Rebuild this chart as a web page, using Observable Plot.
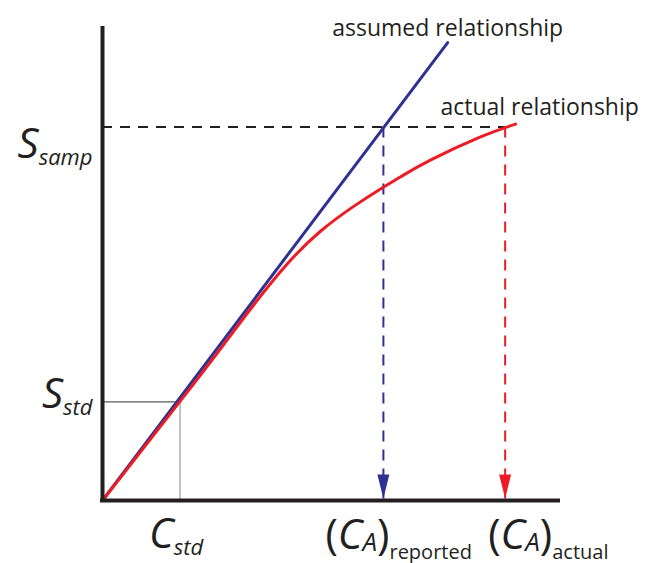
<!DOCTYPE html>
<html><head><meta charset="utf-8">
<script src="https://cdn.jsdelivr.net/npm/d3@7"></script>
<script src="https://cdn.jsdelivr.net/npm/@observablehq/plot@0.6"></script>
<style>html,body{margin:0;padding:0;background:#fff;overflow:hidden}#chart svg{display:block}</style>
</head><body><div id="chart"></div>
<script>
// ---- data (arbitrary concentration / signal units) ----
const redC = [0, 17.0, 26.5, 33.1, 40.6, 47.8, 55.0, 61.4, 65.4, 71.9, 82.9, 90.6];
const redS = [0, 20.9, 32.8, 41.2, 50.0, 56.8, 62.0, 66.0, 68.3, 71.8, 76.7, 79.4];
const blueC = [0, 75.7];
const blueS = [0, 96.6];
const Cstd = 17.0, Sstd = 20.8;
const Ssamp = 78.8;
const CAreported = 61.6, CAactual = 88.3;
const seriesNames = ["assumed relationship", "actual relationship"];
const labelSegments = {
  Ssamp: [["S", "mi"], ["samp", "si"]],
  Sstd: [["S", "mi"], ["std", "si"]],
  Cstd: [["C", "mi"], ["std", "si"]],
  CAreported: [["(", "mu"], ["C", "mi"], ["A", "ai"], [")", "mu"], ["reported", "su"]],
  CAactual: [["(", "mu"], ["C", "mi"], ["A", "ai"], [")", "mu"], ["actual", "su"]]
};

const BLUE = "#2e3192", RED = "#ed1c24", INK = "#231f20";
const FONT = "'Open Sans', sans-serif";

const red = redC.map((c, i) => ({C: c, S: redS[i]}));
const blue = blueC.map((c, i) => ({C: c, S: blueS[i]}));

const arrowHead = {
  draw(ctx) {
    ctx.moveTo(0, -2);
    ctx.lineTo(-6, -26);
    ctx.lineTo(6, -26);
    ctx.closePath();
  }
};

const svg = Plot.plot({
  width: 645,
  height: 563,
  marginLeft: 102,
  marginRight: 87,
  marginTop: 26,
  marginBottom: 63,
  x: {domain: [0, 100], axis: null},
  y: {domain: [0, 100], axis: null},
  style: {fontFamily: FONT, background: "white"},
  marks: [
    // guide lines for the standard
    Plot.ruleY([Sstd], {x1: 0, x2: Cstd, stroke: "#333", strokeWidth: 1}),
    Plot.ruleX([Cstd], {y1: 0, y2: Sstd, stroke: "#888", strokeWidth: 1}),
    // dashed construction lines
    Plot.ruleY([Ssamp], {x1: 0, x2: CAactual, stroke: INK, strokeWidth: 2, strokeDasharray: "10,8"}),
    Plot.ruleX([CAreported], {y1: Ssamp, y2: 0, stroke: BLUE, strokeWidth: 2, strokeDasharray: "11,8"}),
    Plot.ruleX([CAactual], {y1: Ssamp, y2: 0, stroke: RED, strokeWidth: 2, strokeDasharray: "11,8"}),
    // relationships
    Plot.line(blue, {x: "C", y: "S", stroke: BLUE, strokeWidth: 3}),
    Plot.line(red, {x: "C", y: "S", stroke: RED, strokeWidth: 3, curve: "natural"}),
    // arrow heads
    Plot.dot([{C: CAreported, S: 0}], {x: "C", y: "S", symbol: arrowHead, fill: BLUE, stroke: "none"}),
    Plot.dot([{C: CAactual, S: 0}], {x: "C", y: "S", symbol: arrowHead, fill: RED, stroke: "none"}),
    // axes
    Plot.ruleX([0], {y1: 0, y2: 100, stroke: INK, strokeWidth: 4}),
    Plot.ruleY([0], {x1: 0, x2: 100, stroke: INK, strokeWidth: 4, strokeLinecap: "square"}),
    // series labels
    Plot.text([{C: blueC[1], S: blueS[1], t: seriesNames[0]}], {x: "C", y: "S", text: "t", textAnchor: "middle", lineAnchor: "bottom", dy: -7, fontSize: 23, fill: INK}),
    Plot.text([{C: redC[redC.length - 1], S: redS[redS.length - 1], t: seriesNames[1]}], {x: "C", y: "S", text: "t", textAnchor: "middle", lineAnchor: "bottom", dx: 24, dy: -9, fontSize: 23, fill: INK}),
    // axis annotations
    Plot.text([{C: 0, S: Ssamp, k: "Ssamp"}], {x: "C", y: "S", text: "k", textAnchor: "end", lineAnchor: "bottom", dx: -10, dy: 31, fill: INK}),
    Plot.text([{C: 0, S: Sstd, k: "Sstd"}], {x: "C", y: "S", text: "k", textAnchor: "end", lineAnchor: "bottom", dx: -10, dy: 6, fill: INK}),
    Plot.text([{C: Cstd, S: 0, k: "Cstd"}], {x: "C", y: "S", text: "k", textAnchor: "middle", lineAnchor: "bottom", dx: -4, dy: 47, fill: INK}),
    Plot.text([{C: CAreported, S: 0, k: "CAreported"}], {x: "C", y: "S", text: "k", textAnchor: "start", lineAnchor: "bottom", dx: -58, dy: 48, fill: INK}),
    Plot.text([{C: CAactual, S: 0, k: "CAactual"}], {x: "C", y: "S", text: "k", textAnchor: "start", lineAnchor: "bottom", dx: -17, dy: 48, fill: INK})
  ]
});

const styles = {
  mi: {size: 42, style: "italic", shift: 0},
  si: {size: 22, style: "italic", shift: 7},
  mu: {size: 42, style: "normal", shift: 0},
  ai: {size: 26, style: "italic", shift: 2},
  su: {size: 20, style: "normal", shift: 10}
};
d3.select(svg).selectAll("text").each(function () {
  const segs = labelSegments[this.textContent];
  if (!segs) return;
  this.textContent = "";
  let prev = 0;
  for (const [t, k] of segs) {
    const s = styles[k];
    const ts = document.createElementNS("http://www.w3.org/2000/svg", "tspan");
    ts.textContent = t;
    ts.setAttribute("font-size", s.size);
    ts.setAttribute("font-style", s.style);
    ts.setAttribute("dy", s.shift - prev);
    prev = s.shift;
    this.appendChild(ts);
  }
});

document.getElementById("chart").appendChild(svg);
</script>
</body></html>
